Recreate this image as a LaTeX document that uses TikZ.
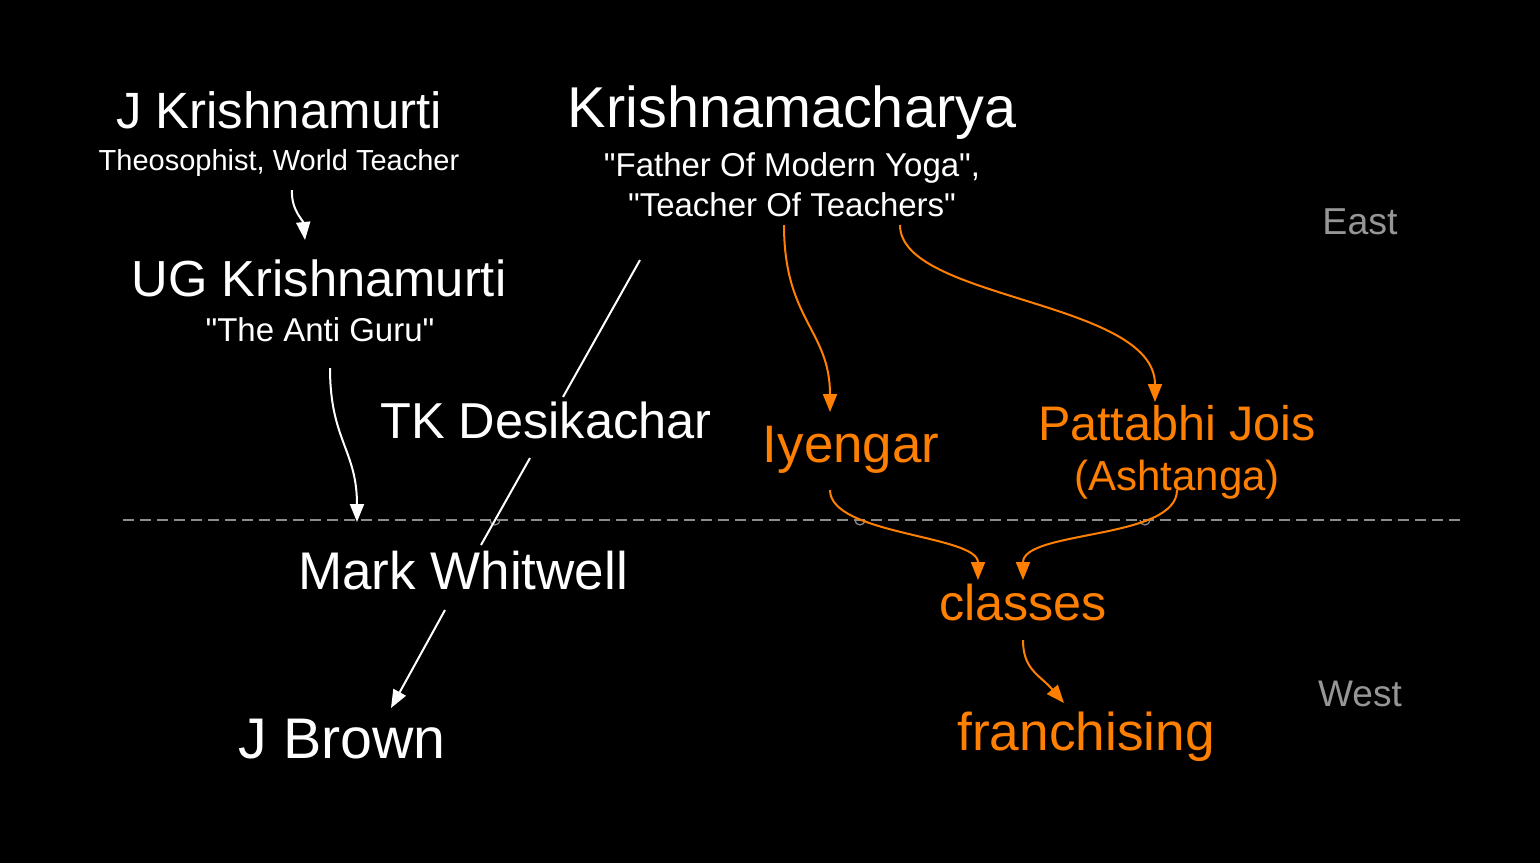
\documentclass[tikz,border=0pt]{standalone}
\usepackage{fontspec}
\setmainfont{Liberation Sans}[Ligatures=TeXOff]
\usetikzlibrary{arrows.meta}
\definecolor{orng}{RGB}{255,128,0}
\definecolor{dashgray}{RGB}{140,140,140}
\definecolor{lblgray}{RGB}{150,150,150}
\tikzset{
  lbl/.style={anchor=base,inner sep=0pt,text=white},
  olbl/.style={anchor=base,inner sep=0pt,text=orng},
  glbl/.style={anchor=base,inner sep=0pt,text=lblgray},
  wcon/.style={draw=white,line width=2pt},
  ocon/.style={draw=orng,line width=2pt},
  wtip/.style={-{Triangle[length=18pt,width=14pt]}},
  divider/.style={draw=dashgray,line width=1.5pt,dash pattern=on 11pt off 6pt},
  hop/.style={draw=dashgray,line width=1.2pt}
}
\newcommand{\fs}[1]{\fontsize{#1}{#1}\selectfont}
\begin{document}
\begin{tikzpicture}[x=1pt,y=-1pt]
\fill[black] (0,0) rectangle (1540,863);
\useasboundingbox (0,0) rectangle (1540,863);

% divider
\draw[divider] (123,520) -- (1463,520);
\draw[hop] (490,520) arc (180:0:5);
\draw[hop] (855,520) arc (180:0:5);
\draw[hop] (1140,520) arc (180:0:5);

% labels
\node[lbl] (jk) at (279,128) {\fs{51}J Krishnamurti};
\node[lbl] (jksub) at (279,170) {\fs{29}Theosophist, World Teacher};
\node[lbl] (km) at (792,127) {\fs{57.6}Krishnamacharya};
\node[lbl] (kmsub1) at (792,176) {\fs{33}"Father Of Modern Yoga",};
\node[lbl] (kmsub2) at (792,216) {\fs{33}"Teacher Of Teachers"};
\node[lbl] (ug) at (319,296) {\fs{50.7}UG Krishnamurti};
\node[lbl] (ugsub) at (320,341) {\fs{33}"The Anti Guru"};
\node[lbl] (tk) at (546,438) {\fs{50.5}TK Desikachar};
\node[olbl] (iy) at (851,462) {\fs{52.8}Iyengar};
\node[olbl] (pj) at (1177,440) {\fs{48.5}Pattabhi Jois};
\node[olbl] (pjsub) at (1177,490) {\fs{42}(Ashtanga)};
\node[lbl] (mw) at (463,589) {\fs{53}Mark Whitwell};
\node[lbl] (jb) at (342,758) {\fs{57.3}J Brown};
\node[olbl] (cl) at (1023,620) {\fs{50.3}classes};
\node[olbl] (fr) at (1086,750) {\fs{53.2}franchising};
\node[glbl] (east) at (1360,234) {\fs{37.5}East};
\node[glbl] (west) at (1360,706) {\fs{37}West};

% connector end points
\coordinate (jkout) at (292,190);
\coordinate (ugin) at (305,240);
\coordinate (ugout) at (330,368);
\coordinate (mwin) at (357,522);
\coordinate (kmout) at (640,260);
\coordinate (tkin) at (563,397);
\coordinate (tkout) at (530,458);
\coordinate (mwtop) at (481,545);
\coordinate (mwout) at (445,610);
\coordinate (jbin) at (391,708);
\coordinate (kmiy) at (784,225);
\coordinate (iyin) at (830,412);
\coordinate (kmpj) at (900,225);
\coordinate (pjin) at (1155,402);
\coordinate (iyout) at (830,490);
\coordinate (clinl) at (978,580);
\coordinate (pjout) at (1177,490);
\coordinate (clinr) at (1023,580);
\coordinate (clout) at (1023,640);
\coordinate (frin) at (1064,703);

% white connectors
\draw[wcon,wtip] (jkout) .. controls (291,210) and (303,220) .. (ugin);
\draw[wcon,wtip] (ugout) .. controls (330,440) and (357,450) .. (mwin);
\draw[wcon] (kmout) -- (tkin);
\draw[wcon] (tkout) -- (mwtop);
\draw[wcon,wtip] (mwout) -- (jbin);

% orange connectors
\draw[ocon,wtip,orng] (kmiy) .. controls (784,320) and (830,330) .. (iyin);
\draw[ocon,wtip,orng] (kmpj) .. controls (900,300) and (1155,300) .. (pjin);
\draw[ocon,wtip,orng] (iyout) .. controls (830,535) and (978,535) .. (clinl);
\draw[ocon,wtip,orng] (pjout) .. controls (1177,540) and (1023,530) .. (clinr);
\draw[ocon,wtip,orng] (clout) .. controls (1023,670) and (1040,675) .. (frin);
\end{tikzpicture}
\end{document}
